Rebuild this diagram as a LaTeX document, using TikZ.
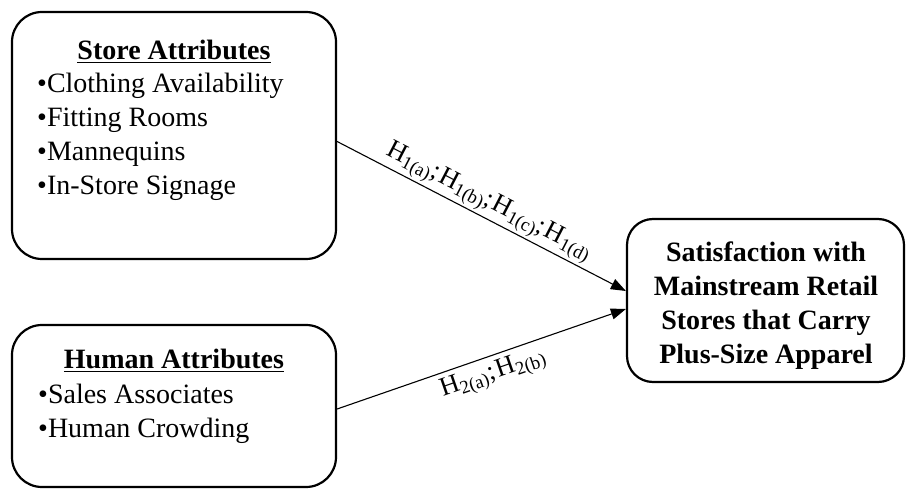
\documentclass[tikz,border=0pt]{standalone}
\usepackage{fontspec}
\setmainfont{Liberation Serif}
\usetikzlibrary{arrows.meta,calc}
\begin{document}
\begin{tikzpicture}[x=1pt,y=-1pt,
  box/.style={draw,line width=2.2pt,rounded corners=30pt,inner sep=0pt},
  txt/.style={anchor=base west,inner sep=0pt,font=\fontsize{28}{34}\selectfont},
  ttl/.style={anchor=base,inner sep=0pt,font=\fontsize{28}{34}\selectfont\bfseries},
  link/.style={line width=1.1pt,-{Triangle[length=15pt,width=11pt]}},
  hlab/.style={font=\fontsize{26.5}{30}\selectfont,sloped,inner sep=2pt}]
\useasboundingbox (0,0) rectangle (906,489);
% boxes
\node[box,minimum width=324pt,minimum height=247pt] (store) at (174,135.5) {};
\node[box,minimum width=324pt,minimum height=162pt] (human) at (174,406) {};
\node[box,rounded corners=26pt,minimum width=277pt,minimum height=163pt] (sat) at (765.5,300.5) {};
% store text
\node[ttl] (st) at (174,60) {\underline{Store Attributes}};
\node[txt] (s1) at (37,93) {•Clothing Availability};
\node[txt] (s2) at (37,127) {•Fitting Rooms};
\node[txt] (s3) at (37,161) {•Mannequins};
\node[txt] (s4) at (37,195) {•In-Store Signage};
% human text
\node[ttl] (ht) at (174,369) {\underline{Human Attributes}};
\node[txt] (h1) at (38,403) {•Sales Associates};
\node[txt] (h2) at (38,437) {•Human Crowding};
% satisfaction text
\node[ttl] (a1) at (766,262) {Satisfaction with};
\node[ttl] (a2) at (766,296) {Mainstream Retail};
\node[ttl] (a3) at (766,330) {Stores that Carry};
\node[ttl] (a4) at (766,364) {Plus-Size Apparel};
% connectors
\coordinate (p1) at ([yshift=-6pt]store.east);
\coordinate (q1) at ([yshift=9.5pt]sat.west);
\coordinate (p2) at ([yshift=-3pt]human.east);
\coordinate (q2) at ([yshift=-8.5pt]sat.west);
\draw[link] (p1) -- node[hlab,above,pos=0.5]
  {H\textsubscript{1(a)};\kern2pt H\textsubscript{1(b)};\kern2pt H\textsubscript{1(c)};\kern2pt H\textsubscript{1(d)}} (q1);
\draw[link] (p2) -- node[hlab,below,pos=0.52,yshift=-3pt]
  {H\textsubscript{2(a)};\kern2pt H\textsubscript{2(b)}} (q2);
\end{tikzpicture}
\end{document}
